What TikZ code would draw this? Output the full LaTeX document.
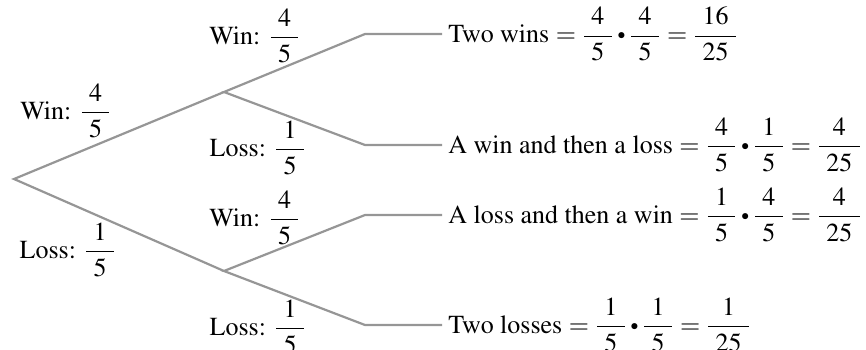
\documentclass[tikz,border=0pt]{standalone}
\usepackage[T1]{fontenc}
\usepackage{mathptmx}
\usepackage{amsmath}
\usepackage{graphicx}
\usetikzlibrary{positioning}
\definecolor{Gris}{RGB}{150,150,150}
\newcommand{\fois}{\mathbin{\vcenter{\hbox{\scalebox{0.6}{$\bullet$}}}}}
\newcommand{\fr}[2]{\dfrac{\mkern5mu #1\mkern5mu}{\mkern5mu #2\mkern5mu}}
\tikzset{branche/.style={draw=Gris, line width=1.1pt}}
\tikzset{lbl/.style={inner sep=0pt, font=\fontsize{13}{15}\selectfont}}
\tikzset{feuille/.style={anchor=west, inner sep=3pt, font=\fontsize{13}{15}\selectfont}}
\begin{document}
\begin{tikzpicture}[x=0.5pt, y=-0.5pt]
\useasboundingbox (0,0) rectangle (866,349);
\coordinate (rac) at (14,179);
\coordinate (g) at (224,92);
\coordinate (p) at (224,271);
\coordinate (gg) at (365,34);
\coordinate (gp) at (365,145);
\coordinate (pg) at (365,215);
\coordinate (pp) at (365,325);
\node[lbl] (lg) at (66,111) {Win: $\fr{4}{5}$};
\node[lbl] (lp) at (68,250) {Loss: $\fr{1}{5}$};
\node[lbl] (lgg) at (255,36) {Win: $\fr{4}{5}$};
\node[lbl] (lgp) at (258,148) {Loss: $\fr{1}{5}$};
\node[lbl] (lpg) at (255,218) {Win: $\fr{4}{5}$};
\node[lbl] (lpp) at (258,327) {Loss: $\fr{1}{5}$};
\node[feuille] (f1) at (442,34) {Two wins $= \fr{4}{5}\fois\fr{4}{5} = \fr{16}{25}$};
\node[feuille] (f2) at (442,145) {A win and then a loss $= \fr{4}{5}\fois\fr{1}{5} = \fr{4}{25}$};
\node[feuille] (f3) at (442,215) {A loss and then a win $= \fr{1}{5}\fois\fr{4}{5} = \fr{4}{25}$};
\node[feuille] (f4) at (442,325) {Two losses $= \fr{1}{5}\fois\fr{1}{5} = \fr{1}{25}$};
\draw[branche] (g) -- (rac) -- (p);
\draw[branche] (f1.west) -- (gg) -- (g) -- (gp) -- (f2.west);
\draw[branche] (f3.west) -- (pg) -- (p) -- (pp) -- (f4.west);
\end{tikzpicture}
\end{document}
